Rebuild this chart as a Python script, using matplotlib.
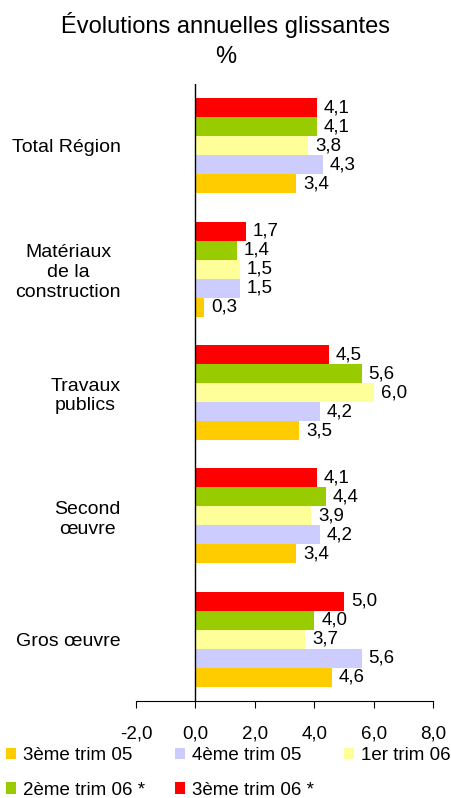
import matplotlib
matplotlib.use('Agg')
import matplotlib.pyplot as plt
from matplotlib.ticker import FuncFormatter
import numpy as np

plt.rcParams['font.family'] = ['Liberation Sans', 'DejaVu Sans']

# DATA (categories listed bottom to top, as drawn)
categories = ['Gros œuvre', 'Second\nœuvre', 'Travaux\npublics',
              'Matériaux\nde la\nconstruction', 'Total Région']
series = ['3ème trim 05', '4ème trim 05', '1er trim 06',
          '2ème trim 06 *', '3ème trim 06 *']
colors = ['#FFCC00', '#CCCCFF', '#FFFF99', '#99CC00', '#FF0000']
t3_05 = [4.6, 3.4, 3.5, 0.3, 3.4]
t4_05 = [5.6, 4.2, 4.2, 1.5, 4.3]
t1_06 = [3.7, 3.9, 6.0, 1.5, 3.8]
t2_06 = [4.0, 4.4, 5.6, 1.4, 4.1]
t3_06 = [5.0, 4.1, 4.5, 1.7, 4.1]
values = [t3_05, t4_05, t1_06, t2_06, t3_06]

def fr(v):
    return f'{v:.1f}'.replace('.', ',')

# PLOTTING
fig = plt.figure(figsize=(4.51, 7.98), dpi=100)
ax = fig.add_axes([0.3016, 0.1216, 0.6584, 0.773])

y = np.arange(len(categories))
h = 0.154
handles = []
for j, (name, vals, c) in enumerate(zip(series, values, colors)):
    bars = ax.barh(y + (j - 2) * h, vals, height=h, color=c, label=name)
    ax.bar_label(bars, labels=[fr(v) for v in vals], padding=5, fontsize=13.5)
    handles.append(bars)

ax.set_xlim(-2, 8)
ax.set_ylim(-0.5, 4.5)
ax.set_xticks([-2, 0, 2, 4, 6, 8])
ax.xaxis.set_major_formatter(FuncFormatter(lambda v, p: fr(v)))
ax.tick_params(axis='x', labelsize=13.5, length=5, direction='out', pad=13)
ax.set_yticks(y)
ax.set_yticklabels(categories, multialignment='center', fontsize=14)
ax.tick_params(axis='y', length=0, pad=11)
for s in ['left', 'right', 'top']:
    ax.spines[s].set_visible(False)
ax.axvline(0, color='black', lw=1)

fig.suptitle('Évolutions annuelles glissantes\n%', fontsize=17, y=0.985,
             linespacing=1.45)

order = [0, 3, 1, 4, 2]
fig.legend([handles[i] for i in order], [series[i] for i in order],
           ncol=3, loc='upper left', bbox_to_anchor=(0.013, 0.064),
           frameon=False, fontsize=13.5, handlelength=0.55, handleheight=0.55,
           handletextpad=0.35, columnspacing=1.6, labelspacing=0.95,
           borderaxespad=0.0, borderpad=0.0)

plt.savefig('out.png', dpi=100)
